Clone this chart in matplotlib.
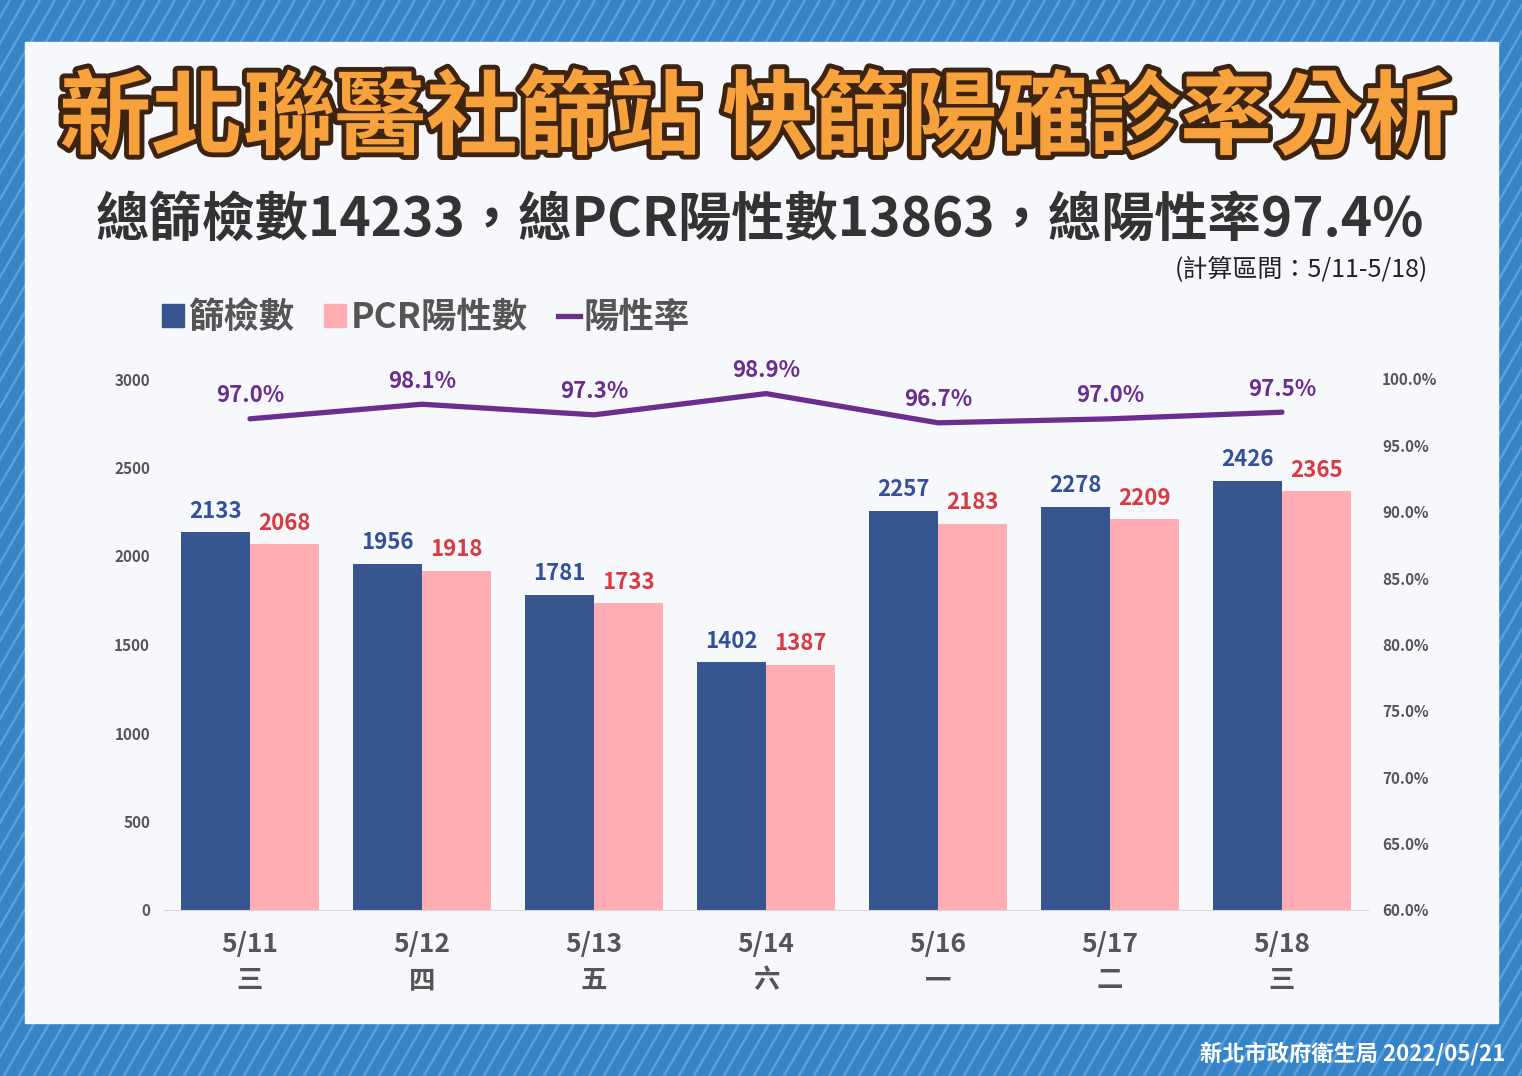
import numpy as np
import matplotlib
matplotlib.use("Agg")
import matplotlib.pyplot as plt
import matplotlib.patheffects as pe
from matplotlib.patches import Rectangle
from matplotlib.lines import Line2D

plt.rcParams['font.family'] = ['Noto Sans CJK TC', 'DejaVu Sans']

# ---- data ----
dates = ["5/11", "5/12", "5/13", "5/14", "5/16", "5/17", "5/18"]
weekdays = ["三", "四", "五", "六", "一", "二", "三"]
screened = [2133, 1956, 1781, 1402, 2257, 2278, 2426]
pcr_positive = [2068, 1918, 1733, 1387, 2183, 2209, 2365]
positive_rate = [97.0, 98.1, 97.3, 98.9, 96.7, 97.0, 97.5]
left_ticks = [0, 500, 1000, 1500, 2000, 2500, 3000]
right_ticks = [60, 65, 70, 75, 80, 85, 90, 95, 100]

title = "新北聯醫社篩站 快篩陽確診率分析"
subtitle = "總篩檢數14233，總PCR陽性數13863，總陽性率97.4%"
period = "(計算區間：5/11-5/18)"
footer = "新北市政府衛生局 2022/05/21"
legend_labels = ["篩檢數", "PCR陽性數", "陽性率"]

NAVY = "#37558e"
PINK = "#ffadb3"
PURPLE = "#6b2d8f"
NAVY_TXT = "#34509a"
RED_TXT = "#d9393f"
GRAY = "#555555"

W, H = 1522, 1076
fig = plt.figure(figsize=(W / 100, H / 100), dpi=100)

# ---- background ----
bg = fig.add_axes([0, 0, 1, 1], zorder=-10)
bg.set_xlim(0, W)
bg.set_ylim(H, 0)
bg.axis("off")
bg.add_patch(Rectangle((0, 0), W, H, color="#3584c7", zorder=0))
dx = H / np.tan(np.radians(60))
for x0 in np.arange(-dx - 20, W + 20, 15):
    bg.plot([x0, x0 + dx], [H, 0], color="#5f9fd9", lw=1.8, zorder=1,
            solid_capstyle="butt")
bg.add_patch(Rectangle((25, 42), 1473, 981, color="#f6f8fc", zorder=2))

# ---- titles ----
fig.text(757 / W, 1 - 120 / H, title, ha="center", va="center",
         fontsize=66, fontweight="bold", color="#f7a23c",
         path_effects=[pe.withStroke(linewidth=7, foreground="#3d2410")])
fig.text(760 / W, 1 - 220 / H, subtitle, ha="center", va="center",
         fontsize=38.3, fontweight="bold", color="#333333")
fig.text(1428 / W, 1 - 270 / H, period, ha="right", va="center",
         fontsize=18, color="#222222")
fig.text(1505 / W, 1 - 1054 / H, footer, ha="right", va="center",
         fontsize=16, fontweight="bold", color="white")

# ---- chart ----
ax = fig.add_axes([164 / W, 1 - 910 / H, 1204 / W, 531 / H])
ax.set_facecolor("none")
x = np.arange(len(dates))
bw = 0.4
b1 = ax.bar(x - bw / 2, screened, bw, color=NAVY, zorder=3)
b2 = ax.bar(x + bw / 2, pcr_positive, bw, color=PINK, zorder=3)
ax.set_xlim(-0.5, len(dates) - 0.5)
ax.set_ylim(0, 3000)
ax.set_yticks(left_ticks)
ax.set_yticklabels([str(t) for t in left_ticks])
ax.set_xticks(x)
ax.set_xticklabels([f"{d}\n{w}" for d, w in zip(dates, weekdays)],
                   fontsize=19, fontweight="bold", color=GRAY, linespacing=1.45)
for s in ["top", "left", "right"]:
    ax.spines[s].set_visible(False)
ax.spines["bottom"].set_color("#d9d9d9")
ax.tick_params(axis="x", length=0, pad=15)
ax.tick_params(axis="y", length=0, pad=10, labelsize=11, labelcolor=GRAY)
for lab in ax.get_yticklabels():
    lab.set_fontweight("bold")

for xi, v in zip(x, screened):
    ax.annotate(str(v), (xi - bw / 2, v), xytext=(0, 15), textcoords="offset points",
                ha="center", va="center", fontsize=16, fontweight="bold",
                color=NAVY_TXT)
for xi, v in zip(x, pcr_positive):
    ax.annotate(str(v), (xi + bw / 2, v), xytext=(0, 15), textcoords="offset points",
                ha="center", va="center", fontsize=16, fontweight="bold",
                color=RED_TXT)

ax2 = ax.twinx()
ax2.set_ylim(60, 100)
ax2.set_yticks(right_ticks)
ax2.set_yticklabels([f"{t:.1f}%" for t in right_ticks])
for s in ["top", "left", "right", "bottom"]:
    ax2.spines[s].set_visible(False)
ax2.tick_params(axis="y", length=0, pad=10, labelsize=11, labelcolor=GRAY)
for lab in ax2.get_yticklabels():
    lab.set_fontweight("bold")
ln, = ax2.plot(x, positive_rate, color=PURPLE, lw=3.8, solid_capstyle="round",
               solid_joinstyle="round", zorder=4)
for xi, v in zip(x, positive_rate):
    ax2.annotate(f"{v:.1f}%", (xi, v), xytext=(0, 16.5), textcoords="offset points",
                 ha="center", va="center", fontsize=16, fontweight="bold",
                 color=PURPLE)

# ---- legend ----
handles = [Rectangle((0, 0), 1, 1, color=NAVY), Rectangle((0, 0), 1, 1, color=PINK),
           Line2D([0], [0], color=PURPLE, lw=3.8)]
leg = fig.legend(handles, legend_labels, loc="center left",
                 bbox_to_anchor=(144 / W, 1 - 317 / H), ncol=3, frameon=False,
                 fontsize=25.5, handlelength=0.62, handleheight=0.62,
                 handletextpad=0.12, columnspacing=0.85, borderpad=0)
for t in leg.get_texts():
    t.set_color(GRAY)
    t.set_fontweight("bold")

fig.savefig("out.png", dpi=100)
